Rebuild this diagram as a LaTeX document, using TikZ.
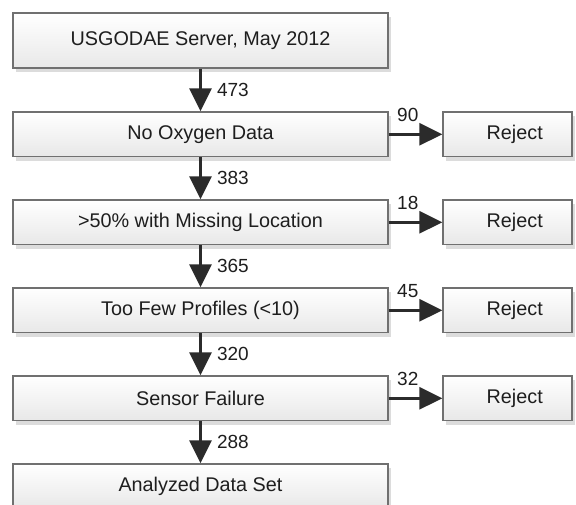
\documentclass[tikz,border=0pt]{standalone}
\usepackage{fontspec}
\setmainfont{Liberation Sans}
\usetikzlibrary{arrows.meta,shadows,calc}
\definecolor{boxline}{HTML}{707070}
\definecolor{arrowcol}{HTML}{2B2B2B}
\definecolor{txt}{HTML}{1E1E1E}
\tikzset{
  box/.style={draw=boxline, line width=1.4pt, top color=white, bottom color=black!9,
    drop shadow={shadow xshift=3pt, shadow yshift=-4pt, opacity=0.3, fill=black!45},
    inner sep=0pt, text=txt, font=\fontsize{19.8}{24}\selectfont},
  mainbox/.style={box, minimum width=375pt, minimum height=44.5pt},
  rejbox/.style={box, text width=129pt, align=center, minimum height=44.5pt},
  flow/.style={draw=arrowcol, line width=3pt, -{Triangle[width=22pt,length=23pt]}, arrowcol},
  cnt/.style={inner sep=0pt, text=txt, font=\fontsize{19}{22}\selectfont},
}
\begin{document}
\begin{tikzpicture}[x=1pt, y=-1pt]
\useasboundingbox (0,0) rectangle (576,505);
\clip (0,0) rectangle (576,505);
\node[mainbox, minimum height=55pt] (b1) at (200.5,40.7) {USGODAE Server, May 2012};
\node[mainbox] (b2) at (200.5,134.3) {No Oxygen Data};
\node[mainbox] (b3) at (200.5,222.3) {>50\% with Missing Location};
\node[mainbox] (b4) at (200.5,310.3) {Too Few Profiles (<10)};
\node[mainbox] (b5) at (200.5,398.3) {Sensor Failure};
\node[mainbox] (b6) at (200.5,486.3) {Analyzed Data Set};
\node[rejbox] (r2) at (507.5,134.3) {\hspace*{14.4pt}Reject};
\node[rejbox] (r3) at (507.5,222.3) {\hspace*{14.4pt}Reject};
\node[rejbox] (r4) at (507.5,310.3) {\hspace*{14.4pt}Reject};
\node[rejbox] (r5) at (507.5,398.3) {\hspace*{14.4pt}Reject};
\draw[flow] (b1.south) -- (b2.north) node[cnt, midway, anchor=west, xshift=15pt] (n1) {473};
\draw[flow] (b2.south) -- (b3.north) node[cnt, midway, anchor=west, xshift=15pt] (n2) {383};
\draw[flow] (b3.south) -- (b4.north) node[cnt, midway, anchor=west, xshift=15pt] (n3) {365};
\draw[flow] (b4.south) -- (b5.north) node[cnt, midway, anchor=west, xshift=15pt] (n4) {320};
\draw[flow] (b5.south) -- (b6.north) node[cnt, midway, anchor=west, xshift=15pt] (n5) {288};
\draw[flow] (b2.east) -- (r2.west) node[cnt, pos=0, anchor=south west, xshift=7pt, yshift=11.5pt] (m2) {90};
\draw[flow] (b3.east) -- (r3.west) node[cnt, pos=0, anchor=south west, xshift=7pt, yshift=11.5pt] (m3) {18};
\draw[flow] (b4.east) -- (r4.west) node[cnt, pos=0, anchor=south west, xshift=7pt, yshift=11.5pt] (m4) {45};
\draw[flow] (b5.east) -- (r5.west) node[cnt, pos=0, anchor=south west, xshift=7pt, yshift=11.5pt] (m5) {32};
\end{tikzpicture}
\end{document}
